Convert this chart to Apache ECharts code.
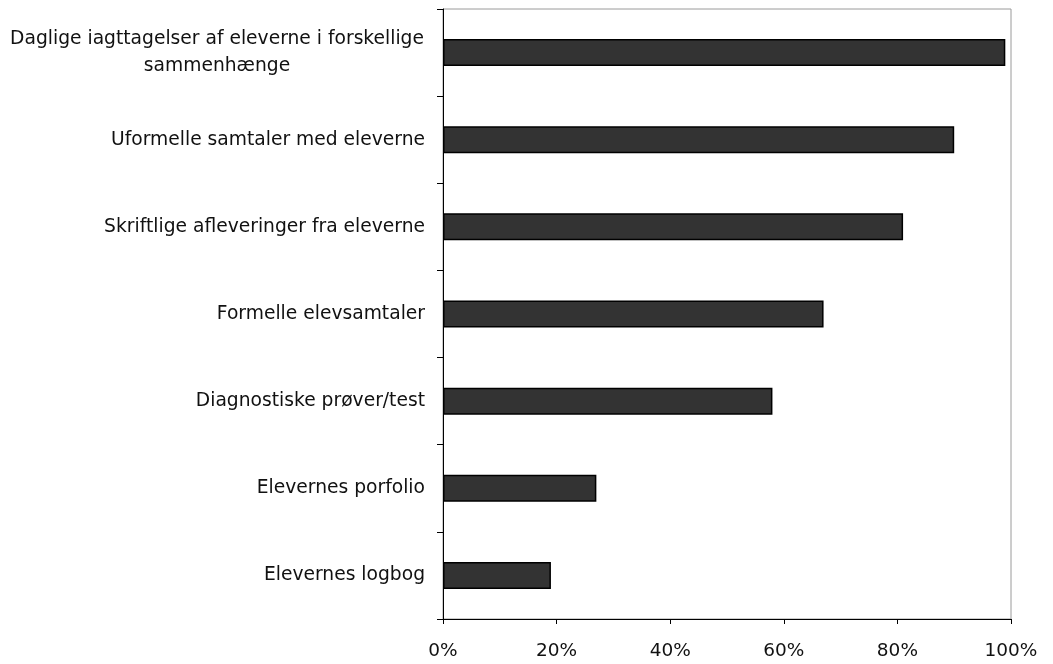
<!DOCTYPE html>
<html>
<head>
<meta charset="utf-8">
<script src="https://cdn.jsdelivr.net/npm/echarts@6/dist/echarts.min.js"></script>
<style>
  html, body { margin: 0; padding: 0; background: #fff; }
  #chart { width: 1053px; height: 664px; }
</style>
</head>
<body>
<div id="chart"></div>
<script>
// Categories, top to bottom
const categories = [
  'Daglige iagttagelser af eleverne i forskellige\nsammenhænge',
  'Uformelle samtaler med eleverne',
  'Skriftlige afleveringer fra eleverne',
  'Formelle elevsamtaler',
  'Diagnostiske prøver/test',
  'Elevernes porfolio',
  'Elevernes logbog'
];
// Share of respondents (%)
const values = [99, 90, 81, 67, 58, 27, 19];
// Value axis ticks
const xTicks = [0, 20, 40, 60, 80, 100];

const FONT = 'DejaVu Sans';

const chart = echarts.init(document.getElementById('chart'));
chart.setOption({
  animation: false,
  grid: {
    left: 443, right: 42, top: 9, bottom: 45,
    show: true, borderColor: '#9a9a9a', borderWidth: 1
  },
  xAxis: {
    type: 'value',
    min: xTicks[0], max: xTicks[xTicks.length - 1], interval: xTicks[1] - xTicks[0],
    splitLine: { show: false },
    axisLine: { show: true, lineStyle: { color: '#000', width: 1 } },
    axisTick: { show: true, length: 5, lineStyle: { color: '#000' } },
    axisLabel: {
      formatter: v => v + '%',
      color: '#111', fontFamily: FONT, fontSize: 18.5, margin: 23
    }
  },
  yAxis: {
    type: 'category',
    data: categories,
    inverse: true,
    axisLine: { show: true, lineStyle: { color: '#000', width: 1 } },
    axisTick: { show: true, length: 6, lineStyle: { color: '#000' } },
    axisLabel: {
      color: '#111', fontFamily: FONT, fontSize: 18.7, margin: 18, lineHeight: 27,
      formatter: v => v.indexOf('\n') < 0 ? v
        : v.split('\n').map(s => '{c|' + s + '}').join('\n'),
      rich: { c: { width: 416, align: 'center', fontFamily: FONT, fontSize: 18.7, color: '#111', lineHeight: 27 } }
    }
  },
  series: [{
    type: 'bar',
    data: values,
    barWidth: '31%',
    itemStyle: { color: '#333333', borderColor: '#000', borderWidth: 1.5 }
  }]
});
</script>
</body>
</html>
